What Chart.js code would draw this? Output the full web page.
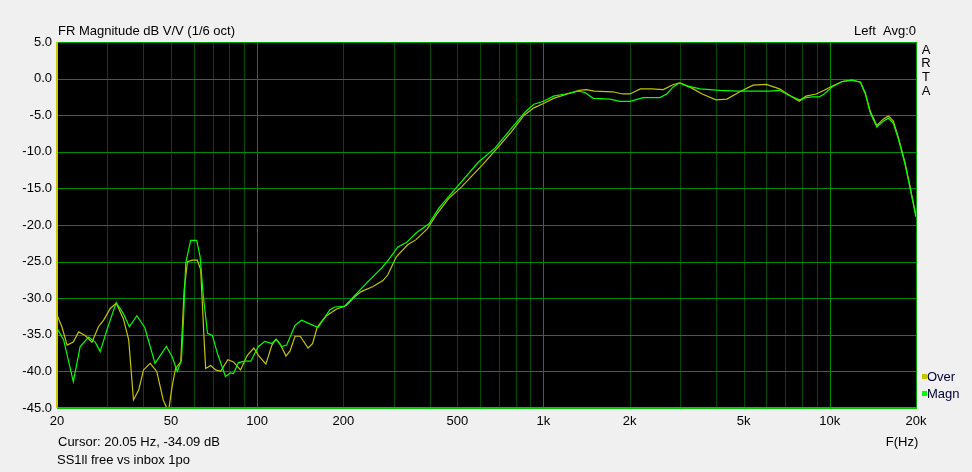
<!DOCTYPE html>
<html>
<head>
<meta charset="utf-8">
<script src="https://cdn.jsdelivr.net/npm/chart.js@4/dist/chart.umd.min.js"></script>
<style>
  html, body { margin: 0; padding: 0; background: #f0f0f0; }
  #wrap { width: 972px; height: 472px; position: relative; }
</style>
</head>
<body>
<div id="wrap"><canvas id="c" width="972" height="472"></canvas></div>
<script>
// ---- Data ----
const magnFreq = [20,21.1,22.8,24.1,25.8,27.2,28.3,29.9,32.2,34.1,35.8,38.0,40.5,44.0,48.2,50.5,52.6,54.4,55.3,56.3,58.6,61.5,63.2,64.9,67.1,69.8,72.6,77.5,80.6,82.7,86.0,90.6,95.0,101,106.5,112.6,116.4,121.8,126.8,135.6,142.9,150.6,163.2,179.3,186.4,202,216,240,272,287,310,332,359,399,431,491,593,677,792,867,926,1000,1084,1190,1323,1396,1493,1706,1849,2004,2230,2551,2694,2842,2983,3166,3522,4134,4723,5396,6163,6672,7226,7824,8254,8707,9184,9555,10210,11053,11966,12790,13310,13850,14600,15400,16020,16670,17340,18290,19030,20000];
const magnDb = [-34.1,-35.7,-41.4,-36.6,-35.3,-36.0,-37.3,-34.3,-30.6,-32.1,-33.9,-32.4,-34.0,-38.9,-36.6,-38.0,-40.0,-38.5,-33.0,-25.2,-22.1,-22.1,-24.3,-29.8,-34.8,-35.1,-37.5,-40.7,-40.2,-40.3,-38.8,-38.6,-38.6,-36.6,-35.9,-36.2,-35.6,-36.6,-36.4,-33.7,-33.0,-33.4,-34.0,-31.6,-31.2,-31.1,-29.9,-28.0,-25.9,-24.8,-23.0,-22.4,-21.1,-19.8,-17.7,-15.1,-11.4,-9.5,-6.3,-4.5,-3.5,-3.1,-2.4,-2.1,-1.7,-1.9,-2.7,-2.8,-3.1,-3.1,-2.6,-2.6,-2.1,-1.1,-0.6,-1.0,-1.4,-1.6,-1.7,-1.7,-1.7,-1.6,-2.3,-2.9,-2.6,-2.5,-2.5,-2.1,-1.1,-0.4,-0.2,-0.5,-2.1,-4.7,-6.6,-5.8,-5.4,-6.1,-8.2,-11.6,-14.8,-18.9];

const overFreq = [20,20.8,21.7,22.8,23.8,25.1,26.5,27.9,29.1,30.7,32.2,34.1,35.6,37.0,38.6,40.1,42.3,44.6,47.0,49.0,50.5,51.9,54.1,55.6,57.1,59.4,61.8,63.5,65.3,66.1,68.8,71.6,74.6,79.0,82.7,87.5,92.4,97.4,101,107.3,112.6,116.4,120.1,126.1,130.3,135.6,141.4,150.6,156.1,162,169.3,174.7,188.9,204.8,219,231,254,275,286,306.6,335.6,358.9,393.6,425.8,466.3,517.4,608.7,693.6,771,856,926,1000,1084,1190,1330,1410,1505,1745,1890,2004,2180,2380,2620,2842,3000,3260,3585,4000,4370,4850,5396,6000,6672,7322,7824,8254,8960,9555,10210,11050,11966,12790,13310,13850,14600,15400,16020,16670,17340,18290,19030,20000];
const overDb = [-32.3,-33.9,-36.4,-36.0,-34.6,-35.1,-36.0,-33.9,-33.0,-31.4,-30.7,-32.8,-35.7,-43.9,-42.5,-39.8,-38.9,-40.0,-43.9,-45.5,-42.0,-39.6,-38.7,-28.9,-25.0,-24.8,-24.8,-26.1,-35.7,-39.6,-39.2,-39.8,-40.0,-38.4,-38.7,-39.8,-37.8,-36.8,-37.8,-39.0,-36.4,-35.6,-36.2,-37.9,-37.2,-35.2,-35.2,-36.8,-36.2,-34.0,-33.0,-32.4,-31.5,-31.0,-29.8,-29.1,-28.4,-27.6,-26.8,-24.3,-22.7,-22.0,-20.5,-18.4,-16.4,-14.8,-11.9,-9.4,-7.3,-5.0,-4.0,-3.4,-2.7,-2.2,-1.6,-1.5,-1.7,-1.8,-2.1,-2.1,-1.4,-1.4,-1.5,-0.8,-0.6,-1.2,-2.1,-2.9,-2.8,-1.8,-0.9,-0.8,-1.4,-2.4,-3.1,-2.4,-2.1,-1.6,-1.0,-0.4,-0.2,-0.5,-2.0,-4.5,-6.4,-5.5,-5.1,-5.8,-8.0,-11.4,-14.6,-18.8];

const xGridValues = [30,40,50,60,70,80,90,100,200,300,400,500,600,700,800,900,1000,2000,3000,4000,5000,6000,7000,8000,9000,10000];
const xDecades = [100,1000,10000];
const xTickValues = [20,50,100,200,500,1000,2000,5000,10000,20000];
const xTickLabels = ['20','50','100','200','500','1k','2k','5k','10k','20k'];
const yMin = -45, yMax = 5, yStep = 5;
const yGridValues = [0,-5,-10,-15,-20,-25,-30,-35,-40];

const seriesNames = ['Magn', 'Over'];
const seriesColors = ['#00ff00', '#c4c400'];

const titleText = 'FR Magnitude dB V/V (1/6 oct)';
const topRightText = 'Left  Avg:0';
const sideLetters = ['A','R','T','A'];
const cursorText = 'Cursor: 20.05 Hz, -34.09 dB';
const fileText = 'SS1ll free vs inbox 1po';
const xAxisTitle = 'F(Hz)';

const FONT = '"Liberation Sans", Arial, sans-serif';

function pts(fx, dy) { return fx.map((f, i) => ({ x: f, y: dy[i] })); }

const bgPlugin = {
  id: 'bg',
  beforeDraw(chart) {
    const { ctx, chartArea: a } = chart;
    ctx.save();
    ctx.fillStyle = '#f0f0f0';
    ctx.fillRect(0, 0, chart.width, chart.height);
    ctx.fillStyle = '#000000';
    ctx.fillRect(a.left, a.top, a.right - a.left, a.bottom - a.top);
    ctx.restore();
  },
  beforeDatasetsDraw(chart) {
    const { ctx, chartArea: a, scales } = chart;
    ctx.save();
    const t = Math.round(a.top), b = Math.round(a.bottom);
    const l = Math.round(a.left), r = Math.round(a.right);
    xGridValues.forEach(v => {
      const px = Math.round(scales.x.getPixelForValue(v));
      ctx.fillStyle = xDecades.includes(v) ? '#008c00' : '#004a00';
      ctx.fillRect(px, t, 1, b - t);
    });
    ctx.fillStyle = '#008c00';
    yGridValues.forEach(v => {
      const py = Math.round(scales.y.getPixelForValue(v));
      ctx.fillRect(l, py, r - l, 1);
    });
    ctx.restore();
  },
  afterDraw(chart) {
    const { ctx, chartArea: a } = chart;
    const t = Math.round(a.top), b = Math.round(a.bottom);
    const l = Math.round(a.left), r = Math.round(a.right);
    ctx.save();
    // borders
    ctx.fillStyle = '#00a000';
    ctx.fillRect(l, t, r - l + 1, 1);
    ctx.fillRect(r, t, 1, b - t);
    ctx.fillStyle = '#00c800';
    ctx.fillRect(l, b - 1, r - l + 1, 2);
    ctx.fillStyle = '#c8c800';
    ctx.fillRect(l - 1, t, 2, b - t);

    // texts
    ctx.font = '13px ' + FONT;
    ctx.fillStyle = '#000000';
    ctx.textBaseline = 'middle';
    ctx.textAlign = 'left';
    ctx.fillText(titleText, 58, 31);
    ctx.fillText(cursorText, 58, 442);
    ctx.fillText(fileText, 57, 460);
    ctx.textAlign = 'right';
    ctx.fillText(topRightText, 916, 31);
    ctx.textAlign = 'center';
    ctx.fillText(xAxisTitle, 902, 442);
    sideLetters.forEach((l2, i) => ctx.fillText(l2, 926, 50 + i * 13.7));

    // legend
    const legendY = [377, 394];
    [1, 0].forEach((si, k) => {
      ctx.fillStyle = seriesColors[si];
      ctx.fillRect(922, legendY[k] - 3, 5, 5);
      ctx.fillStyle = '#000033';
      ctx.textAlign = 'left';
      ctx.fillText(seriesNames[si], 927, legendY[k]);
    });
    ctx.restore();
  }
};

new Chart(document.getElementById('c'), {
  type: 'line',
  data: {
    datasets: [
      { label: seriesNames[0], data: pts(magnFreq, magnDb), borderColor: seriesColors[0], borderWidth: 1.2, pointRadius: 0, tension: 0, fill: false },
      { label: seriesNames[1], data: pts(overFreq, overDb), borderColor: seriesColors[1], borderWidth: 1.2, pointRadius: 0, tension: 0, fill: false }
    ]
  },
  options: {
    responsive: false,
    animation: false,
    devicePixelRatio: 1,
    layout: { padding: { left: 0, right: 56, top: 42, bottom: 0 } },
    plugins: { legend: { display: false }, tooltip: { enabled: false }, title: { display: false } },
    scales: {
      x: {
        type: 'logarithmic',
        min: 20, max: 20000,
        afterBuildTicks(scale) { scale.ticks = xTickValues.map(v => ({ value: v })); },
        afterFit(scale) { scale.height = 64; },
        ticks: {
          autoSkip: false, maxRotation: 0, minRotation: 0, padding: 6,
          color: '#000000', font: { family: FONT, size: 13 },
          callback: (v) => { const i = xTickValues.indexOf(v); return i >= 0 ? xTickLabels[i] : ''; }
        },
        grid: { display: false, drawTicks: false },
        border: { display: false }
      },
      y: {
        type: 'linear',
        min: yMin, max: yMax,
        afterFit(scale) { scale.width = 57; },
        ticks: {
          stepSize: yStep, padding: 5,
          color: '#000000', font: { family: FONT, size: 13 },
          callback: (v) => Number(v).toFixed(1)
        },
        grid: { display: false, drawTicks: false },
        border: { display: false }
      }
    }
  },
  plugins: [bgPlugin]
});
</script>
</body>
</html>
